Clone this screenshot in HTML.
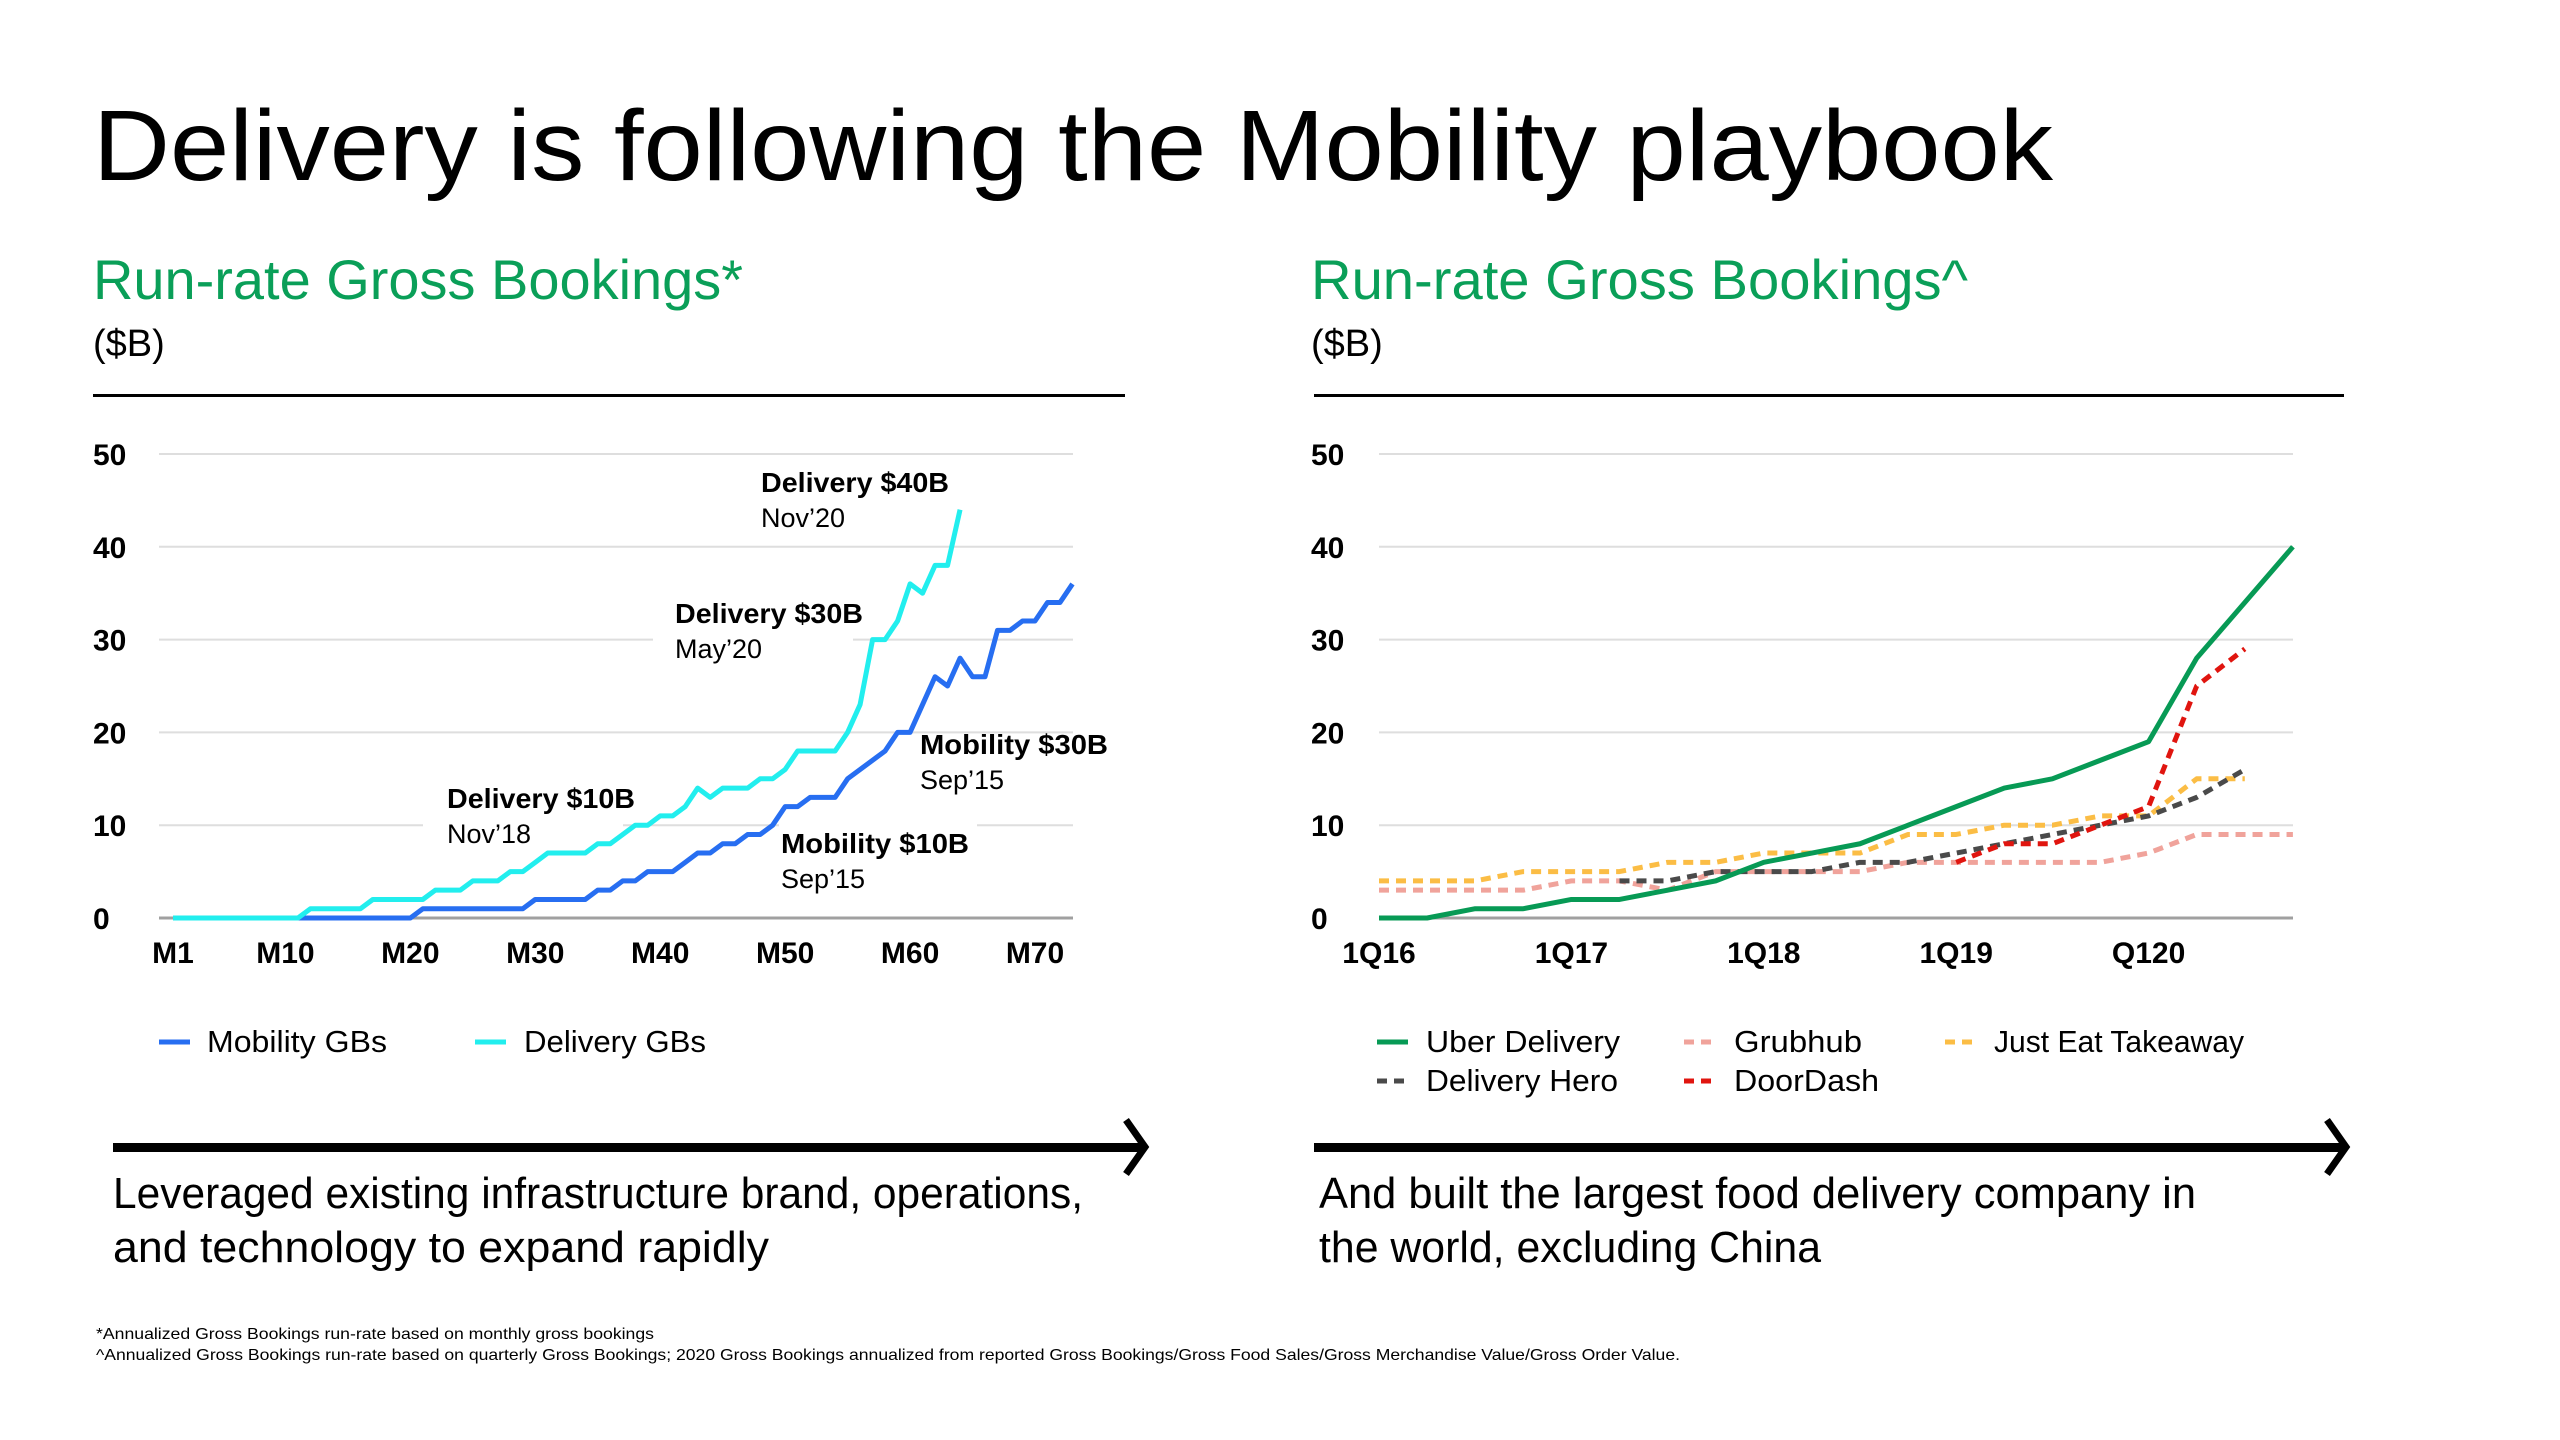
<!DOCTYPE html>
<html><head><meta charset="utf-8"><style>
html,body{margin:0;padding:0;background:#fff;}
svg{display:block;font-family:"Liberation Sans",sans-serif;}
</style></head><body>
<svg id="page" width="2560" height="1440" viewBox="0 0 2560 1440">
<text x="93" y="180" font-size="100" font-weight="500" fill="#000" textLength="1960" lengthAdjust="spacingAndGlyphs">Delivery is following the Mobility playbook</text>

<text x="93" y="299" font-size="56" fill="#0a9f58" textLength="650" lengthAdjust="spacingAndGlyphs">Run-rate Gross Bookings*</text>
<text x="93" y="356" font-size="38" fill="#000">($B)</text>
<rect x="93" y="394" width="1032" height="3" fill="#000"/>

<text x="1311" y="299" font-size="56" fill="#0a9f58" textLength="657" lengthAdjust="spacingAndGlyphs">Run-rate Gross Bookings^</text>
<text x="1311" y="356" font-size="38" fill="#000">($B)</text>
<rect x="1314" y="394" width="1030" height="3" fill="#000"/>

<g id="left"></g>
<g id="right"></g>

<!-- left legend -->
<g>
<g><line x1="159" y1="1042" x2="190" y2="1042" stroke="#276ef1" stroke-width="5"/><text x="207" y="1052" font-size="31" textLength="180" lengthAdjust="spacingAndGlyphs">Mobility GBs</text></g>
<g><line x1="475" y1="1042" x2="506" y2="1042" stroke="#22eeee" stroke-width="5"/><text x="524" y="1052" font-size="31" textLength="182" lengthAdjust="spacingAndGlyphs">Delivery GBs</text></g>
</g>
<!-- right legend -->
<g>
<g><line x1="1377" y1="1042" x2="1408" y2="1042" stroke="#079a55" stroke-width="5"/><text x="1426" y="1052" font-size="31" textLength="194" lengthAdjust="spacingAndGlyphs">Uber Delivery</text></g>
<g><line x1="1377" y1="1081" x2="1408" y2="1081" stroke="#4a4a4a" stroke-width="5" stroke-dasharray="10 7"/><text x="1426" y="1091" font-size="31" textLength="192" lengthAdjust="spacingAndGlyphs">Delivery Hero</text></g>
<g><line x1="1684" y1="1042" x2="1715" y2="1042" stroke="#f0a39b" stroke-width="5" stroke-dasharray="10 7"/><text x="1734" y="1052" font-size="31" textLength="128" lengthAdjust="spacingAndGlyphs">Grubhub</text></g>
<g><line x1="1684" y1="1081" x2="1715" y2="1081" stroke="#e0150f" stroke-width="5" stroke-dasharray="10 7"/><text x="1734" y="1091" font-size="31" textLength="145" lengthAdjust="spacingAndGlyphs">DoorDash</text></g>
<g><line x1="1945" y1="1042" x2="1976" y2="1042" stroke="#fbbd45" stroke-width="5" stroke-dasharray="10 7"/><text x="1994" y="1052" font-size="31" textLength="250" lengthAdjust="spacingAndGlyphs">Just Eat Takeaway</text></g>
</g>

<!-- arrows -->
<g><rect x="113" y="1143" width="1028" height="9" fill="#000"/><polyline points="1126,1120 1145,1147 1126,1174" fill="none" stroke="#000" stroke-width="7"/></g>
<g><rect x="1314" y="1143" width="1028" height="9" fill="#000"/><polyline points="2327,1120 2346,1147 2327,1174" fill="none" stroke="#000" stroke-width="7"/></g>

<text x="113" y="1208" font-size="44" textLength="970" lengthAdjust="spacingAndGlyphs">Leveraged existing infrastructure brand, operations,</text>
<text x="113" y="1262" font-size="44" textLength="656" lengthAdjust="spacingAndGlyphs">and technology  to expand rapidly</text>
<text x="1319" y="1208" font-size="44" textLength="877" lengthAdjust="spacingAndGlyphs">And built the largest food delivery company in</text>
<text x="1319" y="1262" font-size="44" textLength="502" lengthAdjust="spacingAndGlyphs">the world, excluding China</text>

<text x="96" y="1339" font-size="16" textLength="558" lengthAdjust="spacingAndGlyphs">*Annualized Gross Bookings run-rate based on monthly gross bookings</text>
<text x="96" y="1360" font-size="16" textLength="1584" lengthAdjust="spacingAndGlyphs">^Annualized Gross Bookings run-rate based on quarterly Gross Bookings; 2020 Gross Bookings annualized from reported Gross Bookings/Gross Food Sales/Gross Merchandise Value/Gross Order Value.</text>
</svg>
<script>
const yTicks = [0,10,20,30,40,50];
const mobility = [0,0,0,0,0,0,0,0,0,0,0,0,0,0,0,0,0,0,0,0,1,1,1,1,1,1,1,1,1,2,2,2,2,2,3,3,4,4,5,5,5,6,7,7,8,8,9,9,10,12,12,13,13,13,15,16,17,18,20,20,23,26,25,28,26,26,31,31,32,32,34,34,36];
const delivery = [0,0,0,0,0,0,0,0,0,0,0,1,1,1,1,1,2,2,2,2,2,3,3,3,4,4,4,5,5,6,7,7,7,7,8,8,9,10,10,11,11,12,14,13,14,14,14,15,15,16,18,18,18,18,20,23,30,30,32,36,35,38,38,44];
const monthTicks = ["M1","M10","M20","M30","M40","M50","M60","M70"];
const monthTickIdx = [1,10,20,30,40,50,60,70];
const quarterTicks = ["1Q16","1Q17","1Q18","1Q19","Q120"];
const quarterTickIdx = [0,4,8,12,16];
const uberDelivery = [0,0,1,1,2,2,3,4,6,7,8,10,12,14,15,17,19,28,34,40];
const justEat = [4,4,4,5,5,5,6,6,7,7,7,9,9,10,10,11,11,15,15];
const grubhub = [3,3,3,3,4,4,3,5,5,5,5,6,6,6,6,6,7,9,9,9];
const deliveryHero = [null,null,null,null,null,4,4,5,5,5,6,6,7,8,9,10,11,13,16];
const doorDash = [null,null,null,null,null,null,null,null,null,null,null,null,6,8,8,10,12,25,29];

const NS="http://www.w3.org/2000/svg";
function mk(tag,attrs,parent){const e=document.createElementNS(NS,tag);for(const k in attrs)e.setAttribute(k,attrs[k]);parent.appendChild(e);return e;}
const yScale=v=>918-v*(918-454)/50;
const xLeft=m=>173+(m-1)*(1035-173)/69;
const xRight=q=>1379+q*48.1;

function axes(g,x0,x1,labelX,name){
  yTicks.forEach(t=>{
    const l=mk('line',{x1:x0,x2:x1,y1:yScale(t),y2:yScale(t),stroke:t===0?'#a0a0a0':'#dedede','stroke-width':t===0?3:2},g);
    
    
    const tx=mk('text',{x:labelX,y:yScale(t)+11,'font-size':30,'font-weight':'bold'},g);
    tx.textContent=t;
    
    
  });
}
function series(g,vals,xf,color,dash,name,offset){
  let d='';let started=false;
  vals.forEach((v,i)=>{if(v===null)return;d+=(started?'L':'M')+xf(i+offset)+','+yScale(v);started=true;});
  const p=mk('path',{d:d,fill:'none',stroke:color,'stroke-width':5,'stroke-linejoin':'round'},g);
  if(dash)p.setAttribute('stroke-dasharray',dash);
  
  
}
const L=document.getElementById('left');
axes(L,159,1073,93,'left');
monthTicks.forEach((t,i)=>{
  const tx=mk('text',{x:xLeft(monthTickIdx[i]),y:963,'font-size':30,'font-weight':'bold','text-anchor':'middle'},L);
  tx.textContent=t;
  
  
});
// label backgrounds
[[653,580,200,90],[423,775,200,80],[779,820,198,80]].forEach((r,i)=>{
  const b=mk('rect',{x:r[0],y:r[1],width:r[2],height:r[3],fill:'#fff'},L);
  
  
});
series(L,mobility,xLeft,'#276ef1',null,'mobility-line',1);
series(L,delivery,xLeft,'#22eeee',null,'delivery-line',1);
const ann=[["Delivery $40B","Nov’20",761,492],["Delivery $30B","May’20",675,623],["Delivery $10B","Nov’18",447,808],["Mobility $30B","Sep’15",920,754],["Mobility $10B","Sep’15",781,853]];
ann.forEach((a,i)=>{
  const t1=mk('text',{x:a[2],y:a[3],'font-size':28,'font-weight':'bold',textLength:188,lengthAdjust:'spacingAndGlyphs'},L);
  t1.textContent=a[0];
  
  
  const t2=mk('text',{x:a[2],y:a[3]+35,'font-size':27},L);
  t2.textContent=a[1];
  
  
});
const R=document.getElementById('right');
axes(R,1379,2293,1311,'right');
quarterTicks.forEach((t,i)=>{
  const tx=mk('text',{x:xRight(quarterTickIdx[i]),y:963,'font-size':30,'font-weight':'bold','text-anchor':'middle'},R);
  tx.textContent=t;
  
  
});
series(R,grubhub,xRight,'#f0a39b','10 7','grubhub-line',0);
series(R,justEat,xRight,'#fbbd45','10 7','just-eat-line',0);
series(R,deliveryHero,xRight,'#4a4a4a','10 7','delivery-hero-line',0);
series(R,doorDash,xRight,'#e0150f','10 7','doordash-line',0);
series(R,uberDelivery,xRight,'#079a55',null,'uber-delivery-line',0);
</script>
</body></html>
